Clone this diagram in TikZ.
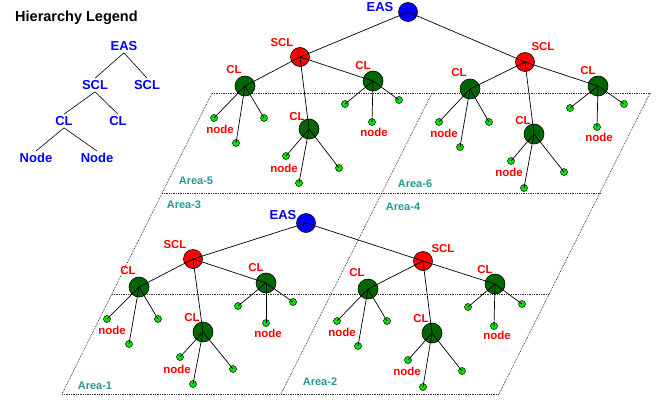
\documentclass[tikz,border=0pt]{standalone}
\usepackage{fontspec}
\setmainfont{Liberation Sans}
\definecolor{easblue}{RGB}{0,0,255}
\definecolor{sclred}{RGB}{255,0,0}
\definecolor{cldark}{RGB}{0,102,0}
\definecolor{leafgreen}{RGB}{0,230,0}
\definecolor{areateal}{RGB}{40,150,150}
\definecolor{gridgray}{RGB}{45,45,45}
\begin{document}
\begin{tikzpicture}[x=1pt,y=-1pt,
  every node/.style={font=\bfseries},
  eas/.style={circle,draw=black,line width=0.6pt,fill=easblue,minimum size=19pt,inner sep=0pt},
  scl/.style={circle,draw=black,line width=0.6pt,fill=sclred,minimum size=19pt,inner sep=0pt},
  clus/.style={circle,draw=black,line width=0.6pt,fill=cldark,minimum size=20pt,inner sep=0pt},
  leaf/.style={circle,draw=black,line width=0.5pt,fill=leafgreen,minimum size=7pt,inner sep=0pt},
  edge/.style={draw=black,line width=0.7pt},
  lblue/.style={text=easblue,font=\bfseries\fontsize{13}{14}\selectfont,inner sep=0pt},
  lred/.style={text=sclred,font=\bfseries\fontsize{11.5}{12}\selectfont,inner sep=0pt},
  area/.style={text=areateal,font=\bfseries\fontsize{11}{12}\selectfont,inner sep=0pt},
  grid/.style={draw=gridgray,line width=0.75pt,densely dotted},
  legline/.style={draw=black,line width=0.6pt}]
\useasboundingbox (0,0) rectangle (668,401);

% ---------- area grid ----------
\coordinate (L0) at (212,93); \coordinate (L1) at (162,193);
\coordinate (L2) at (112,294); \coordinate (L3) at (62,394);
\coordinate (R0) at (650,93); \coordinate (R1) at (600,193);
\coordinate (R2) at (549,294); \coordinate (R3) at (499,394);
\coordinate (M0) at (432,93); \coordinate (M3) at (281,394);
\draw[grid] (L0) -- (L3);
\draw[grid] (R0) -- (R3);
\draw[grid] (M0) -- (M3);
\draw[grid] (L0) -- (R0);
\draw[grid] (L1) -- (R1);
\draw[grid] (L2) -- (R2);
\draw[grid] (L3) -- (R3);
\node[area] (ar5) at (196,181) {Area-5};
\node[area] (ar6) at (415,184) {Area-6};
\node[area] (ar3) at (184,205) {Area-3};
\node[area] (ar4) at (403,207) {Area-4};
\node[area] (ar1) at (95,386) {Area-1};
\node[area] (ar2) at (320,382) {Area-2};

% ---------- legend ----------
\node[font=\bfseries\fontsize{14.5}{16}\selectfont,anchor=west,inner sep=0pt] (title) at (15,18) {Hierarchy Legend};
\node[lblue] (gE) at (124,46) {EAS};
\node[lblue] (gS1) at (95,85) {SCL};
\node[lblue] (gS2) at (147,85) {SCL};
\node[lblue] (gC1) at (64,121) {CL};
\node[lblue] (gC2) at (118,121) {CL};
\node[lblue] (gN1) at (36,158) {Node};
\node[lblue] (gN2) at (97,158) {Node};
\draw[legline] ([yshift=-2pt]gE.south) -- ([yshift=2pt]gS1.north);
\draw[legline] ([yshift=-2pt]gE.south) -- ([yshift=2pt]gS2.north);
\draw[legline] ([yshift=-2pt]gS1.south) -- ([yshift=2pt]gC1.north);
\draw[legline] ([yshift=-2pt]gS1.south) -- ([yshift=2pt]gC2.north);
\draw[legline] ([yshift=-2pt]gC1.south) -- ([yshift=2pt]gN1.north);
\draw[legline] ([yshift=-2pt]gC1.south) -- ([yshift=2pt]gN2.north);

% ---------- top system ----------
\node[eas] (TE) at (408,12) {};
\node[lblue] (TEl) at (380,7) {EAS};
% SCL A
\node[scl] (A) at (300,57) {};
\node[lred] (Al) at (282,43) {SCL};
\node[clus] (A1) at (245,86) {}; \node[lred] (A1l) at (234,70) {CL};
\node[clus] (A2) at (309,129) {}; \node[lred] (A2l) at (297,117) {CL};
\node[clus] (A3) at (373,81) {}; \node[lred] (A3l) at (363,66) {CL};
\node[leaf] (A1a) at (214,118) {}; \node[leaf] (A1b) at (236,143) {}; \node[leaf] (A1c) at (264,118) {};
\node[lred] (A1n) at (220,129) {node};
\node[leaf] (A2a) at (286,156) {}; \node[leaf] (A2b) at (299,183) {}; \node[leaf] (A2c) at (339,168) {};
\node[lred] (A2n) at (284,168) {node};
\node[leaf] (A3a) at (345,104) {}; \node[leaf] (A3b) at (372,122) {}; \node[leaf] (A3c) at (399,100) {};
\node[lred] (A3n) at (374,132) {node};
% SCL B
\node[scl] (B) at (525,62) {};
\node[lred] (Bl) at (543,47) {SCL};
\node[clus] (B1) at (470,89) {}; \node[lred] (B1l) at (459,73) {CL};
\node[clus] (B2) at (534,134) {}; \node[lred] (B2l) at (523,121) {CL};
\node[clus] (B3) at (598,86) {}; \node[lred] (B3l) at (588,71) {CL};
\node[leaf] (B1a) at (439,122) {}; \node[leaf] (B1b) at (460,147) {}; \node[leaf] (B1c) at (489,122) {};
\node[lred] (B1n) at (444,133) {node};
\node[leaf] (B2a) at (511,161) {}; \node[leaf] (B2b) at (524,188) {}; \node[leaf] (B2c) at (564,172) {};
\node[lred] (B2n) at (509,172) {node};
\node[leaf] (B3a) at (570,108) {}; \node[leaf] (B3b) at (597,127) {}; \node[leaf] (B3c) at (624,104) {};
\node[lred] (B3n) at (599,137) {node};

% ---------- bottom system ----------
\node[eas] (UE) at (306,223) {};
\node[lblue] (UEl) at (283,215) {EAS};
% SCL C
\node[scl] (C) at (193,259) {};
\node[lred] (Cl) at (175,245) {SCL};
\node[clus] (C1) at (139,287) {}; \node[lred] (C1l) at (128,271) {CL};
\node[clus] (C2) at (203,332) {}; \node[lred] (C2l) at (192,318) {CL};
\node[clus] (C3) at (266,283) {}; \node[lred] (C3l) at (256,268) {CL};
\node[leaf] (C1a) at (107,319) {}; \node[leaf] (C1b) at (129,344) {}; \node[leaf] (C1c) at (158,319) {};
\node[lred] (C1n) at (112,330) {node};
\node[leaf] (C2a) at (180,357) {}; \node[leaf] (C2b) at (193,384) {}; \node[leaf] (C2c) at (233,369) {};
\node[lred] (C2n) at (177,369) {node};
\node[leaf] (C3a) at (238,306) {}; \node[leaf] (C3b) at (266,323) {}; \node[leaf] (C3c) at (293,302) {};
\node[lred] (C3n) at (268,333) {node};
% SCL D
\node[scl] (D) at (423,261) {};
\node[lred] (Dl) at (443,249) {SCL};
\node[clus] (D1) at (368,289) {}; \node[lred] (D1l) at (357,273) {CL};
\node[clus] (D2) at (432,333) {}; \node[lred] (D2l) at (421,319) {CL};
\node[clus] (D3) at (495,284) {}; \node[lred] (D3l) at (485,270) {CL};
\node[leaf] (D1a) at (337,321) {}; \node[leaf] (D1b) at (358,346) {}; \node[leaf] (D1c) at (387,321) {};
\node[lred] (D1n) at (342,332) {node};
\node[leaf] (D2a) at (408,360) {}; \node[leaf] (D2b) at (423,387) {}; \node[leaf] (D2c) at (462,371) {};
\node[lred] (D2n) at (407,371) {node};
\node[leaf] (D3a) at (468,307) {}; \node[leaf] (D3b) at (494,326) {}; \node[leaf] (D3c) at (522,304) {};
\node[lred] (D3n) at (497,335) {node};

% ---------- connectors (centre to centre, on top) ----------
\foreach \e/\s in {TE/A,TE/B,UE/C,UE/D}
  \draw[edge] (\e.center) -- (\s.center);
\foreach \s in {A,B,C,D}{
  \foreach \c in {1,2,3}{
    \draw[edge] (\s.center) -- (\s\c.center);
    \foreach \l in {a,b,c}
      \draw[edge] (\s\c.center) -- (\s\c\l.center);
  }
}
\end{tikzpicture}
\end{document}
